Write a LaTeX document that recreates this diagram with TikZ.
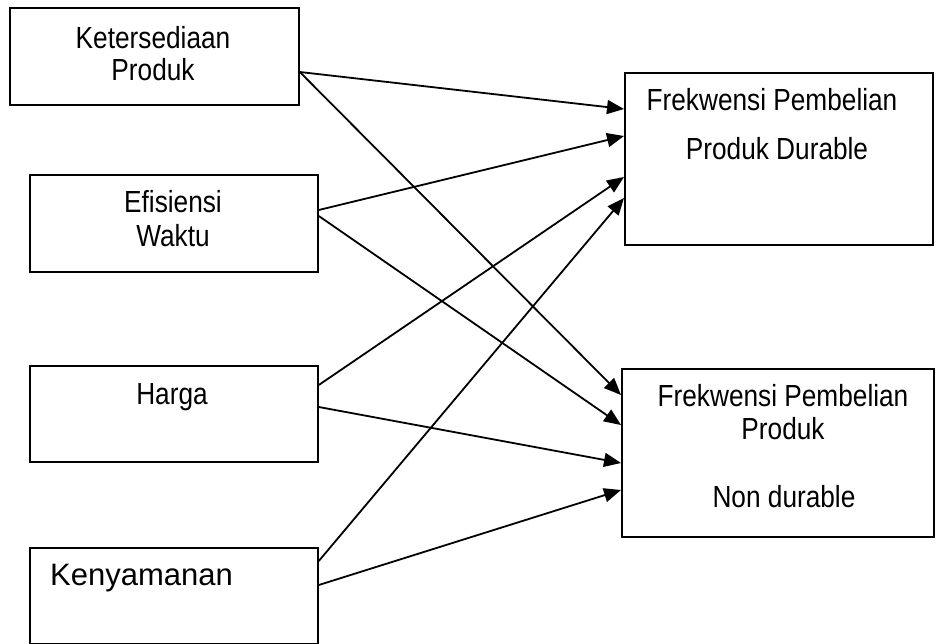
\documentclass[tikz,border=0pt]{standalone}
\usepackage{fontspec}
\setmainfont{Liberation Sans}
\newfontfamily\narrowfont{Liberation Sans}[FakeStretch=0.86]
\usetikzlibrary{arrows.meta}
\tikzset{
  box/.style={draw, line width=1.8pt, inner sep=0pt, anchor=north west},
  lbl/.style={inner sep=0pt, anchor=base, font=\narrowfont\fontsize{30.5}{36}\selectfont},
  lblwide/.style={inner sep=0pt, anchor=base west, font=\fontsize{31}{36}\selectfont},
  conn/.style={line width=1.8pt, -{Triangle[length=17pt,width=14pt]}}
}
\begin{document}
\begin{tikzpicture}[x=1pt,y=-1pt]
\useasboundingbox (0,0) rectangle (936,644);
% boxes
\node[box, minimum width=289pt, minimum height=97pt] (k) at (9,7) {};
\node[box, minimum width=288pt, minimum height=97pt] (e) at (29,174) {};
\node[box, minimum width=288pt, minimum height=96pt] (h) at (29,365) {};
\node[box, minimum width=288pt, minimum height=96pt] (n) at (29,547) {};
\node[box, minimum width=308pt, minimum height=172pt] (d) at (624,72) {};
\node[box, minimum width=312pt, minimum height=168pt] (nd) at (621,368) {};
% texts
\node[lbl] (k1) at (153,49) {Ketersediaan};
\node[lbl] (k2) at (153,81) {Produk};
\node[lbl] (e1) at (173,213) {Efisiensi};
\node[lbl] (e2) at (173,247) {Waktu};
\node[lbl] (h1) at (172,404) {Harga};
\node[lblwide] (n1) at (50,585) {Kenyamanan};
\node[lbl] (d1) at (772,111) {Frekwensi Pembelian};
\node[lbl] (d2) at (777,160) {Produk Durable};
\node[lbl] (nd1) at (783,406) {Frekwensi Pembelian};
\node[lbl] (nd2) at (783,439) {Produk};
\node[lbl] (nd3) at (784,507) {Non durable};
% connectors
\draw[conn] ([yshift=-65pt]k.north east) -- ([yshift=-37pt]d.north west);
\draw[conn] ([yshift=-65pt]k.north east) -- ([yshift=-27pt]nd.north west);
\draw[conn] ([yshift=-36pt]e.north east) -- ([yshift=-64pt]d.north west);
\draw[conn] ([yshift=-42pt]e.north east) -- ([yshift=-57pt]nd.north west);
\draw[conn] ([yshift=-20pt]h.north east) -- ([yshift=-105pt]d.north west);
\draw[conn] ([yshift=-42pt]h.north east) -- ([yshift=-95pt]nd.north west);
\draw[conn] ([yshift=-14pt]n.north east) -- ([yshift=-126pt]d.north west);
\draw[conn] ([yshift=-38pt]n.north east) -- ([yshift=-122pt]nd.north west);
\end{tikzpicture}
\end{document}
